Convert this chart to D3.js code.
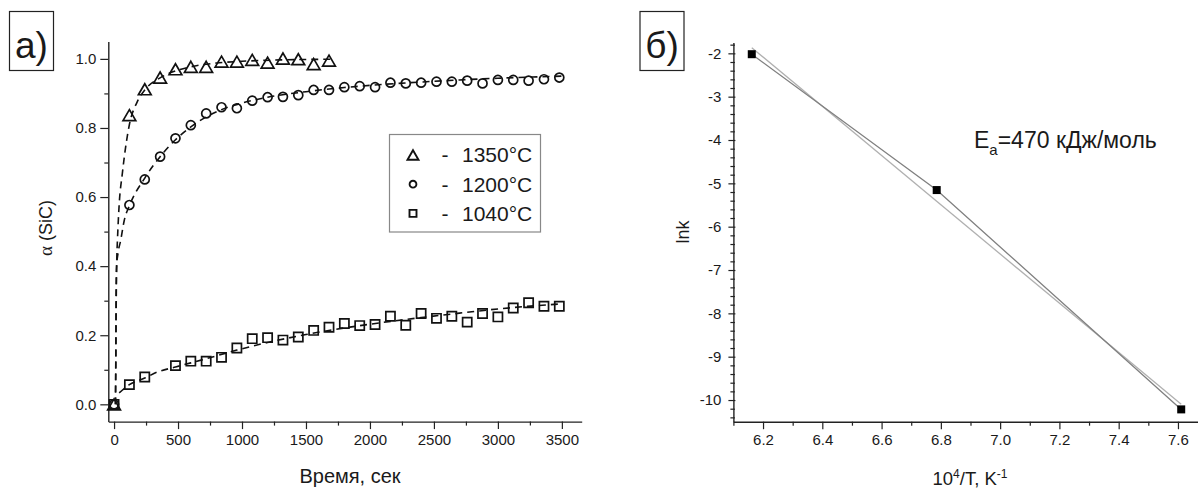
<!DOCTYPE html>
<html>
<head>
<meta charset="utf-8">
<script src="https://cdn.jsdelivr.net/npm/d3@7"></script>
<style>
  body { margin: 0; background: #fff; }
  svg { display: block; }
  text { font-family: "Liberation Sans", Arial, sans-serif; fill: #1a1a1a; }
</style>
</head>
<body>
<svg id="chart" width="1198" height="488"></svg>
<script>
// ---- panel a: conversion vs time ----
let t1350 = [0,120,240,360,480,600,720,840,960,1080,1200,1320,1440,1560,1680];
let a1350 = [0,0.837,0.912,0.946,0.970,0.977,0.977,0.992,0.992,0.997,0.989,1.001,0.999,0.985,0.995];

let t1200 = [0,120,240,360,480,600,720,840,960,1080,1200,1320,1440,1560,1680,1800,1920,2040,2160,2280,2400,2520,2640,2760,2880,3000,3120,3240,3360,3480];
let a1200 = [0,0.577,0.651,0.717,0.770,0.808,0.842,0.860,0.857,0.879,0.889,0.890,0.895,0.910,0.910,0.918,0.921,0.918,0.931,0.929,0.931,0.934,0.934,0.937,0.929,0.939,0.939,0.937,0.941,0.946];

let t1040 = [0,120,240,480,600,720,840,960,1080,1200,1320,1440,1560,1680,1800,1920,2040,2160,2280,2400,2520,2640,2760,2880,3000,3120,3240,3360,3480];
let a1040 = [0,0.057,0.079,0.112,0.125,0.125,0.136,0.163,0.190,0.193,0.186,0.195,0.214,0.223,0.234,0.228,0.231,0.255,0.229,0.263,0.249,0.255,0.238,0.263,0.253,0.279,0.294,0.284,0.284];

// dashed fit curves
let fit1350T = [10,13,16,19,22,27,39,65,107,120,180,240,360,480,600,800,1000,1300,1720];
let fit1350A = [0,0.1,0.25,0.37,0.43,0.48,0.572,0.669,0.784,0.81,0.875,0.91,0.945,0.965,0.977,0.988,0.993,0.997,0.999];
let fit1200T = [12,14,16,20,30,52,80,120,240,360,480,600,720,840,1000,1200,1500,1800,2100,2400,2700,3000,3500];
let fit1200A = [0,0.15,0.32,0.40,0.435,0.475,0.533,0.575,0.655,0.717,0.766,0.803,0.832,0.853,0.872,0.889,0.905,0.917,0.926,0.933,0.939,0.944,0.95];
let fit1040T = [40,120,240,335,480,720,960,1200,1500,1800,2100,2400,2700,3000,3500];
let fit1040A = [0.033,0.057,0.076,0.093,0.108,0.132,0.157,0.179,0.202,0.221,0.237,0.251,0.264,0.276,0.291];

let legendLabels = ["1350°C", "1200°C", "1040°C"];

let timeTicks = [0,500,1000,1500,2000,2500,3000,3500];
let timeMinor = [250,750,1250,1750,2250,2750,3250];
let alphaTicks = [0,0.2,0.4,0.6,0.8,1.0];
let alphaMinor = [0.1,0.3,0.5,0.7,0.9];

// ---- panel б: Arrhenius plot ----
let invT = [6.162, 6.786, 7.611];
let lnK = [-2.02, -5.155, -10.216];
let fitInvT = [6.162, 7.611];
let fitLnK = [-1.87, -10.10];

let invTTicks = [6.2,6.4,6.6,6.8,7.0,7.2,7.4,7.6];
let invTMinor = [6.1,6.3,6.5,6.7,6.9,7.1,7.3,7.5];
let lnKTicks = [-10,-9,-8,-7,-6,-5,-4,-3,-2];

let svg = d3.select("#chart");

function styleAxis(g, fs){
  g.attr("font-family", null).attr("font-size", null);
  g.select(".domain").attr("stroke", "#222").attr("stroke-width", 1.4);
  g.selectAll(".tick line").attr("stroke", "#222").attr("stroke-width", 1.2);
  g.selectAll(".tick text").style("font-size", fs + "px").attr("fill", "#1a1a1a");
}

// triangle centred on its bounding box
let triType = {
  draw: function(ctx, s){
    ctx.moveTo(0, -s*0.5);
    ctx.lineTo(s*0.58, s*0.5);
    ctx.lineTo(-s*0.58, s*0.5);
    ctx.closePath();
  }
};

// ================= panel a =================
let xA = d3.scaleLinear().domain([-45, 3655]).range([108.3, 581.7]);
let yA = d3.scaleLinear().domain([-0.05, 1.05]).range([421.6, 41.6]);

svg.append("g")
    .attr("transform", "translate(0," + yA(-0.05) + ")")
    .call(d3.axisBottom(xA).tickValues(timeMinor).tickSize(4).tickSizeOuter(0).tickFormat(""))
    .call(g => { styleAxis(g, 15); g.select(".domain").remove(); });
svg.append("g")
    .attr("transform", "translate(0," + yA(-0.05) + ")")
    .call(d3.axisBottom(xA).tickValues(timeTicks).tickSize(7.5).tickSizeOuter(0).tickPadding(5).tickFormat(d3.format("d")))
    .call(g => styleAxis(g, 15));

svg.append("g")
    .attr("transform", "translate(" + xA(-45) + ",0)")
    .call(d3.axisLeft(yA).tickValues(alphaMinor).tickSize(4).tickSizeOuter(0).tickFormat(""))
    .call(g => { styleAxis(g, 15); g.select(".domain").remove(); });
svg.append("g")
    .attr("transform", "translate(" + xA(-45) + ",0)")
    .call(d3.axisLeft(yA).tickValues(alphaTicks).tickSize(8).tickSizeOuter(0).tickPadding(4).tickFormat(d3.format(".1f")))
    .call(g => styleAxis(g, 15));

let seriesA = [
  {t: t1350, a: a1350, ft: fit1350T, fa: fit1350A, sym: d3.symbol(triType, 11), legSym: d3.symbol(triType, 9.5)},
  {t: t1200, a: a1200, ft: fit1200T, fa: fit1200A, sym: d3.symbol(d3.symbolCircle, Math.PI*4.5*4.5), legSym: d3.symbol(d3.symbolCircle, Math.PI*3.4*3.4)},
  {t: t1040, a: a1040, ft: fit1040T, fa: fit1040A, sym: d3.symbol(d3.symbolSquare, 84), legSym: d3.symbol(d3.symbolSquare, 49)}
];

let lineA = d3.line()
    .x(d => xA(d[0]))
    .y(d => yA(d[1]))
    .curve(d3.curveMonotoneX);

seriesA.forEach(function(s){
  svg.append("path")
      .attr("d", lineA(d3.zip(s.ft, s.fa)))
      .attr("fill", "none")
      .attr("stroke", "#111")
      .attr("stroke-width", 1.6)
      .attr("stroke-dasharray", "7,5");
});

seriesA.forEach(function(s){
  svg.append("g").selectAll("path")
    .data(d3.zip(s.t, s.a))
    .enter().append("path")
      .attr("transform", d => "translate(" + xA(d[0]) + "," + yA(d[1]) + ")")
      .attr("d", s.sym)
      .attr("fill", "none")
      .attr("stroke", "#111")
      .attr("stroke-width", 1.7);
});

// legend
let legend = svg.append("g");
legend.append("rect")
    .attr("x", 389.5).attr("y", 134.5)
    .attr("width", 151).attr("height", 97.5)
    .attr("fill", "#fff").attr("stroke", "#888").attr("stroke-width", 1.2);
seriesA.forEach(function(s, i){
  let cy = 155 + i*29.2;
  legend.append("path")
      .attr("transform", "translate(413," + cy + ")")
      .attr("d", s.legSym)
      .attr("fill", "none").attr("stroke", "#111").attr("stroke-width", 1.9);
  legend.append("text")
      .attr("x", 445).attr("y", cy + 7.3)
      .attr("text-anchor", "middle")
      .style("font-size", "21px")
      .text("-");
  legend.append("text")
      .attr("x", 462).attr("y", cy + 7.3)
      .style("font-size", "21px")
      .text(legendLabels[i]);
});

// axis titles a
svg.append("text")
    .attr("transform", "translate(52,228) rotate(-90)")
    .attr("text-anchor", "middle")
    .style("font-size", "18px")
    .call(t => {
      t.append("tspan").style("font-family", "'Liberation Serif', 'Times New Roman', serif").style("font-size", "19px").text("α");
      t.append("tspan").text(" (SiC)");
    });
svg.append("text")
    .attr("x", 350).attr("y", 483)
    .attr("text-anchor", "middle")
    .style("font-size", "20px")
    .text("Время, сек");

// ================= panel б =================
let xB = d3.scaleLinear().domain([6.1, 7.67]).range([733.4, 1198.7]);
let yB = d3.scaleLinear().domain([-10.5, -1.75]).range([421.7, 42.5]);
let lnKMinor = d3.range(-10.4, -1.7, 0.2).filter(v => Math.abs(v - Math.round(v)) > 0.01);

svg.append("g")
    .attr("transform", "translate(0," + yB(-10.5) + ")")
    .call(d3.axisBottom(xB).tickValues(invTMinor).tickSize(4).tickSizeOuter(0).tickFormat(""))
    .call(g => { styleAxis(g, 15); g.select(".domain").remove(); });
svg.append("g")
    .attr("transform", "translate(0," + yB(-10.5) + ")")
    .call(d3.axisBottom(xB).tickValues(invTTicks).tickSize(7.5).tickSizeOuter(0).tickPadding(5).tickFormat(d3.format(".1f")))
    .call(g => styleAxis(g, 15));

svg.append("g")
    .attr("transform", "translate(" + xB(6.1) + ",0)")
    .call(d3.axisLeft(yB).tickValues(lnKMinor).tickSize(3).tickSizeOuter(0).tickFormat(""))
    .call(g => { styleAxis(g, 15); g.select(".domain").remove(); g.selectAll(".tick line").attr("x1", 1.5); });
svg.append("g")
    .attr("transform", "translate(" + xB(6.1) + ",0)")
    .call(d3.axisLeft(yB).tickValues(lnKTicks).tickSize(5).tickSizeOuter(0).tickPadding(7).tickFormat(d => String(d)))
    .call(g => { styleAxis(g, 15); g.selectAll(".tick line").attr("x1", 2); });

let lineB = d3.line().x(d => xB(d[0])).y(d => yB(d[1]));

svg.append("path")
    .attr("d", lineB(d3.zip(fitInvT, fitLnK)))
    .attr("fill", "none").attr("stroke", "#b0b0b0").attr("stroke-width", 1.3);
svg.append("path")
    .attr("d", lineB(d3.zip(invT, lnK)))
    .attr("fill", "none").attr("stroke", "#808080").attr("stroke-width", 1.3);

svg.append("g").selectAll("rect")
  .data(d3.zip(invT, lnK))
  .enter().append("rect")
    .attr("x", d => xB(d[0]) - 4)
    .attr("y", d => yB(d[1]) - 4)
    .attr("width", 8).attr("height", 8)
    .attr("fill", "#000");

svg.append("text")
    .attr("x", 974).attr("y", 148)
    .style("font-size", "23px")
    .call(t => {
      t.append("tspan").text("E");
      t.append("tspan").attr("dy", 7).style("font-size", "15px").text("a");
      t.append("tspan").attr("dy", -7).text("=470 кДж/моль");
    });

svg.append("text")
    .attr("transform", "translate(689,232) rotate(-90)")
    .attr("text-anchor", "middle")
    .style("font-size", "18px")
    .text("lnk");

svg.append("text")
    .attr("x", 970).attr("y", 485)
    .attr("text-anchor", "middle")
    .style("font-size", "18.5px")
    .call(t => {
      t.append("tspan").text("10");
      t.append("tspan").attr("dy", -7).style("font-size", "12px").text("4");
      t.append("tspan").attr("dy", 7).text("/T, K");
      t.append("tspan").attr("dy", -7).style("font-size", "12px").text("-1");
    });

// ---- panel labels ----
[["а)", 9.5], ["б)", 640]].forEach(function(p){
  svg.append("rect")
      .attr("x", p[1]).attr("y", 11.5)
      .attr("width", 44).attr("height", 59)
      .attr("fill", "none").attr("stroke", "#222").attr("stroke-width", 1.2);
  svg.append("text")
      .attr("x", p[1] + 22).attr("y", 57.5)
      .attr("text-anchor", "middle")
      .style("font-size", "37px")
      .text(p[0]);
});
</script>
</body>
</html>
